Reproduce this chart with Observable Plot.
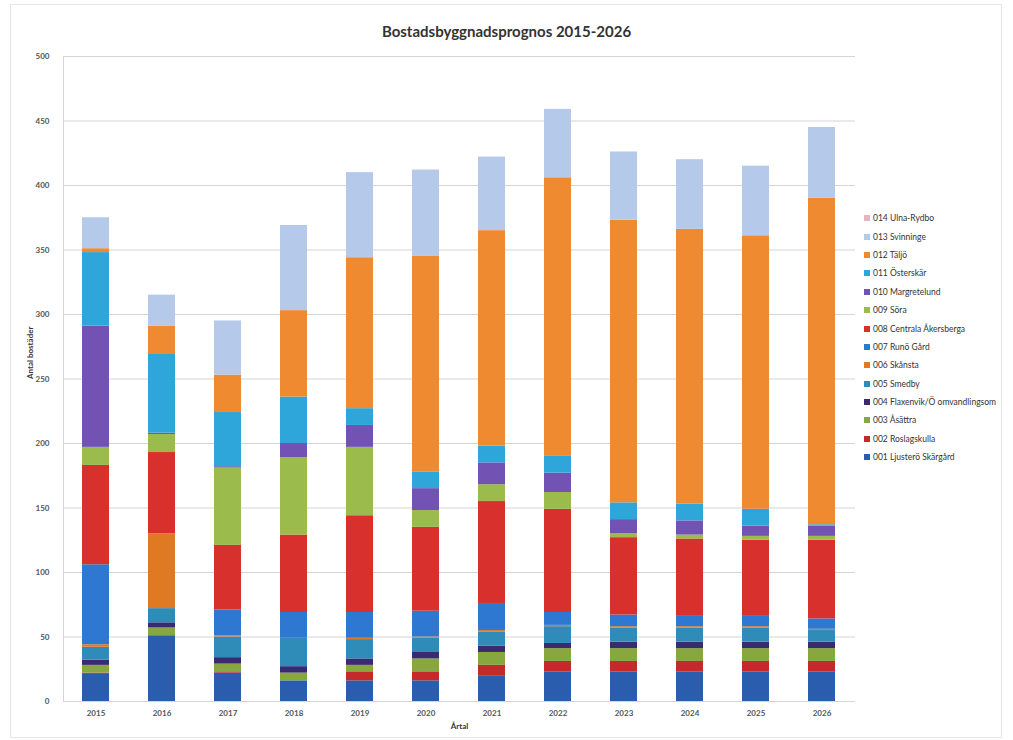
<!DOCTYPE html>
<html><head><meta charset="utf-8">
<script src="https://cdn.jsdelivr.net/npm/d3@7"></script>
<script src="https://cdn.jsdelivr.net/npm/@observablehq/plot@0.6"></script>
<style>
body{margin:0;background:#fff;font-family:Lato,"Open Sans",sans-serif;}
#wrap{position:relative;width:1013px;height:740px;overflow:hidden;}
#frame{position:absolute;left:10px;top:4px;width:992px;height:734px;border:1px solid #e6e6e6;box-sizing:border-box;}
#chart{position:absolute;left:0;top:0;}
#title{position:absolute;top:22px;left:0;width:1013px;text-align:center;font-weight:bold;font-size:15px;color:#333;}
#legend{position:absolute;left:864px;top:209px;font-size:8.5px;color:#333;}
.li{height:18.4px;line-height:14px;white-space:nowrap;display:flex;align-items:center;}
.sw{width:6px;height:6px;margin-right:3px;display:inline-block;}
</style></head><body>
<div id="wrap"><div id="frame"></div><div id="chart"></div><div id="title">Bostadsbyggnadsprognos 2015-2026</div><div id="legend"></div></div>
<script>
const years = [2015,2016,2017,2018,2019,2020,2021,2022,2023,2024,2025,2026];
const seriesNames = ["001 Ljusterö Skärgård","002 Roslagskulla","003 Åsättra","004 Flaxenvik/Ö omvandlingsområde","005 Smedby","006 Skånsta","007 Runö Gård","008 Centrala Åkersberga","009 Söra","010 Margretelund","011 Österskär","012 Täljö","013 Svinninge","014 Ulna-Rydbo"];
const legendLabels = ["001 Ljusterö Skärgård","002 Roslagskulla","003 Åsättra","004 Flaxenvik/Ö omvandlingsom","005 Smedby","006 Skånsta","007 Runö Gård","008 Centrala Åkersberga","009 Söra","010 Margretelund","011 Österskär","012 Täljö","013 Svinninge","014 Ulna-Rydbo"];
const colors = ["#2b5daf","#c42a2a","#86a83e","#3a2a70","#2f8cb8","#e07a22","#2f78d2","#d8302c","#9bbb4c","#7252b2","#2ea6da","#f08a30","#b5c9eb","#e8b3bd"];

const s001 = [21,51,22,16,16,16,20,23,23,23,23,23];
const s002 = [1,0,1,0,7,7,8,8,8,8,8,8];
const s003 = [6,6,6,6,5,10,10,10,10,10,10,10];
const s004 = [4,4,5,5,5,5,5,4,5,5,5,5];
const s005 = [10,11,16,22,15,11,11,13,11,11,11,9];
const s006 = [2,58,1,0,1,1,1,1,1,1,1,1];
const s007 = [62,0,20,20,20,20,21,10,9,8,8,8];
const s008 = [77,63,50,60,75,65,79,80,60,60,59,61];
const s009 = [14,14,60,60,53,13,13,13,3,3,3,3];
const s010 = [94,1,1,11,17,17,17,15,11,11,8,8];
const s011 = [57,61,42,36,13,13,13,13,13,13,13,1];
const s012 = [3,22,29,67,117,167,167,216,219,213,212,253];
const s013 = [24,24,42,66,66,67,57,53,53,54,54,55];
const s014 = [0,0,0,0,0,0,0,0,0,0,0,0];
const yTicks = [0,50,100,150,200,250,300,350,400,450,500];

const all = [s001,s002,s003,s004,s005,s006,s007,s008,s009,s010,s011,s012,s013,s014];
const data = [];
years.forEach((yr,i)=>{ all.forEach((s,j)=>{ data.push({year:String(yr), series:seriesNames[j], value:s[i]}); }); });

const chart = Plot.plot({
  width:1013, height:740,
  marginLeft:63, marginRight:158, marginTop:56, marginBottom:39,
  style:{fontFamily:"Lato, 'Open Sans', sans-serif", fontSize:"8px", color:"#444", background:"transparent"},
  x:{domain:years.map(String), paddingInner:0.59, paddingOuter:0.295, label:null},
  y:{domain:[0,500], ticks:yTicks, label:null},
  color:{domain:seriesNames, range:colors},
  marks:[
    Plot.gridY(yTicks, {stroke:"#d4d4d4", strokeOpacity:1, strokeWidth:1}),
    Plot.frame({anchor:"left", stroke:"#d4d4d4"}),
    Plot.barY(data, {x:"year", y:"value", fill:"series", order:null}),
    Plot.axisY({ticks:yTicks, tickSize:0, tickPadding:14, fontWeight:"bold", fill:"#555"}),
    Plot.axisX({tickSize:0, tickPadding:9, fontWeight:"bold", fill:"#555"}),
    Plot.text(["Antal bostäder"], {frameAnchor:"left", dx:-33, rotate:-90, fontWeight:"bold", fontSize:8, fill:"#333"}),
    Plot.text(["Årtal"], {frameAnchor:"bottom", dy:27, fontWeight:"bold", fontSize:8, fill:"#333"})
  ]
});
document.getElementById("chart").appendChild(chart);

const leg = document.getElementById("legend");
for (let j = seriesNames.length-1; j>=0; j--) {
  const d = document.createElement("div"); d.className="li";
  const sw = document.createElement("span"); sw.className="sw"; sw.style.background=colors[j];
  d.appendChild(sw); d.appendChild(document.createTextNode(legendLabels[j]));
  leg.appendChild(d);
}
</script>
</body></html>
